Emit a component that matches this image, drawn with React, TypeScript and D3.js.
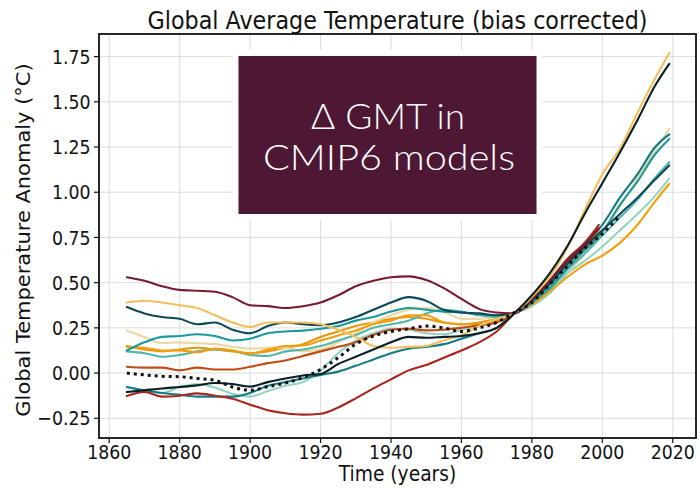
import React from 'react';
import * as d3 from 'd3';

// Year grids (5-year sampling of the smoothed series)
const YEARS = [1865, 1870, 1875, 1880, 1885, 1890, 1895, 1900, 1905, 1910, 1915, 1920, 1925, 1930, 1935, 1940, 1945, 1950, 1955, 1960, 1965, 1970, 1975, 1980, 1985, 1990, 1995, 2000, 2005, 2010, 2015, 2019];
const HIST_YEARS = [1865, 1870, 1875, 1880, 1885, 1890, 1895, 1900, 1905, 1910, 1915, 1920, 1925, 1930, 1935, 1940, 1945, 1950, 1955, 1960, 1965, 1970, 1975, 1980, 1985, 1990, 1995, 1999];
const OBS_YEARS = [1865, 1870, 1875, 1880, 1885, 1890, 1895, 1900, 1905, 1910, 1915, 1920, 1925, 1930, 1935, 1940, 1945, 1950, 1955, 1960, 1965, 1970, 1975, 1980, 1985, 1990, 1995, 2000, 2005];

// Model runs extending to 2019
const lightOrange = [0.39, 0.40, 0.39, 0.375, 0.36, 0.32, 0.28, 0.255, 0.28, 0.28, 0.28, 0.27, 0.24, 0.20, 0.15, 0.14, 0.145, 0.15, 0.18, 0.21, 0.26, 0.30, 0.33, 0.42, 0.53, 0.69, 0.90, 1.10, 1.24, 1.44, 1.63, 1.77];
const black = [-0.105, -0.095, -0.085, -0.077, -0.068, -0.055, -0.06, -0.075, -0.05, -0.03, -0.013, -0.005, 0.05, 0.09, 0.13, 0.17, 0.2, 0.195, 0.2, 0.205, 0.22, 0.25, 0.33, 0.43, 0.55, 0.70, 0.88, 1.05, 1.22, 1.40, 1.59, 1.71];
const wheat = [0.235, 0.2, 0.165, 0.17, 0.165, 0.16, 0.145, 0.135, 0.14, 0.14, 0.12, 0.13, 0.17, 0.22, 0.28, 0.32, 0.35, 0.36, 0.34, 0.30, 0.30, 0.31, 0.33, 0.38, 0.45, 0.55, 0.66, 0.78, 0.92, 1.08, 1.23, 1.35];
const navy = [0.365, 0.33, 0.31, 0.30, 0.27, 0.28, 0.24, 0.22, 0.26, 0.28, 0.27, 0.265, 0.28, 0.31, 0.35, 0.39, 0.42, 0.40, 0.35, 0.335, 0.33, 0.32, 0.33, 0.40, 0.49, 0.60, 0.70, 0.79, 0.88, 0.97, 1.07, 1.148];
const orange = [0.145, 0.14, 0.125, 0.125, 0.115, 0.135, 0.125, 0.107, 0.13, 0.15, 0.153, 0.18, 0.208, 0.236, 0.27, 0.29, 0.32, 0.32, 0.28, 0.27, 0.27, 0.29, 0.33, 0.38, 0.45, 0.53, 0.60, 0.65, 0.72, 0.82, 0.95, 1.047];
const teal = [0.125, 0.17, 0.2, 0.205, 0.215, 0.205, 0.18, 0.19, 0.22, 0.23, 0.235, 0.245, 0.26, 0.29, 0.31, 0.34, 0.36, 0.35, 0.34, 0.335, 0.325, 0.32, 0.33, 0.39, 0.47, 0.58, 0.68, 0.78, 0.93, 1.06, 1.21, 1.295];
const lightTeal = [0.12, 0.11, 0.09, 0.10, 0.12, 0.13, 0.125, 0.10, 0.095, 0.12, 0.13, 0.15, 0.18, 0.21, 0.25, 0.27, 0.29, 0.33, 0.35, 0.34, 0.32, 0.31, 0.33, 0.38, 0.46, 0.57, 0.66, 0.76, 0.86, 0.96, 1.08, 1.166];
const tealDark = [-0.077, -0.095, -0.11, -0.12, -0.13, -0.13, -0.13, -0.11, -0.07, -0.05, -0.03, -0.01, 0.008, 0.04, 0.075, 0.11, 0.135, 0.145, 0.16, 0.19, 0.22, 0.25, 0.33, 0.40, 0.50, 0.62, 0.72, 0.82, 0.97, 1.10, 1.25, 1.32];
const mint = [-0.077, -0.1, -0.11, -0.077, -0.06, -0.08, -0.115, -0.13, -0.1, -0.07, -0.05, 0.015, 0.11, 0.18, 0.22, 0.245, 0.24, 0.22, 0.215, 0.24, 0.26, 0.29, 0.33, 0.37, 0.44, 0.55, 0.62, 0.70, 0.79, 0.88, 0.98, 1.075];

// Historical-only runs ending in 1999
const maroon = [0.53, 0.51, 0.48, 0.46, 0.455, 0.45, 0.42, 0.375, 0.37, 0.36, 0.37, 0.39, 0.43, 0.48, 0.51, 0.53, 0.535, 0.515, 0.47, 0.41, 0.355, 0.335, 0.33, 0.41, 0.51, 0.62, 0.71, 0.80];
const red = [-0.127, -0.105, -0.13, -0.125, -0.112, -0.125, -0.142, -0.175, -0.205, -0.222, -0.23, -0.225, -0.19, -0.14, -0.085, -0.035, 0.015, 0.045, 0.085, 0.125, 0.17, 0.23, 0.33, 0.41, 0.51, 0.63, 0.72, 0.82];
const orangeRed = [0.035, 0.03, 0.03, 0.015, 0.03, 0.02, 0.02, 0.035, 0.055, 0.07, 0.095, 0.12, 0.145, 0.17, 0.21, 0.24, 0.245, 0.236, 0.24, 0.25, 0.264, 0.28, 0.33, 0.41, 0.50, 0.61, 0.69, 0.77];
const darkOrange = [0.15, 0.13, 0.12, 0.13, 0.14, 0.13, 0.12, 0.11, 0.12, 0.14, 0.16, 0.20, 0.23, 0.26, 0.28, 0.30, 0.31, 0.30, 0.28, 0.27, 0.28, 0.30, 0.33, 0.40, 0.50, 0.60, 0.70, 0.79];

// Observational reference (dotted)
const observed = [0.0, -0.01, -0.018, -0.02, -0.03, -0.04, -0.077, -0.095, -0.075, -0.055, -0.025, 0.02, 0.085, 0.16, 0.205, 0.23, 0.245, 0.26, 0.25, 0.23, 0.25, 0.28, 0.335, 0.39, 0.49, 0.59, 0.69, 0.77, 0.87];

const X_TICKS = [1860, 1880, 1900, 1920, 1940, 1960, 1980, 2000, 2020];
const Y_TICKS = [-0.25, 0.0, 0.25, 0.5, 0.75, 1.0, 1.25, 1.5, 1.75];

const SERIES = [
  { years: HIST_YEARS, values: darkOrange, color: '#E8960E' },
  { years: YEARS, values: wheat, color: '#EAD7A2' },
  { years: YEARS, values: mint, color: '#95D3C0' },
  { years: YEARS, values: lightTeal, color: '#4FB7AC' },
  { years: YEARS, values: orange, color: '#F0A00C' },
  { years: HIST_YEARS, values: orangeRed, color: '#C24A14' },
  { years: YEARS, values: teal, color: '#1A9A9C' },
  { years: YEARS, values: tealDark, color: '#137A86' },
  { years: YEARS, values: navy, color: '#0D4A59' },
  { years: HIST_YEARS, values: red, color: '#A8261C' },
  { years: HIST_YEARS, values: maroon, color: '#781B30' },
  { years: YEARS, values: lightOrange, color: '#F2BF5C' },
  { years: YEARS, values: black, color: '#0C1F27' },
];

const W = 700;
const H = 489;
const M = { left: 99, right: 696, top: 34, bottom: 438 };
const SX = 0.89; // horizontal squeeze of glyphs
const FONT = "'DejaVu Sans', sans-serif";
const PANEL_FONT = "Lato, 'Open Sans', sans-serif";

export default function App() {
  const x = d3.scaleLinear().domain([1857.1, 2026.6]).range([M.left, M.right]);
  const y = d3.scaleLinear().domain([-0.359, 1.875]).range([M.bottom, M.top]);

  const lineFor = (years: number[]) =>
    d3
      .line<number>()
      .x((_, i) => x(years[i]))
      .y((v) => y(v))
      .curve(d3.curveMonotoneX);

  const cx = (M.left + M.right) / 2;

  return (
    <svg
      width={W}
      height={H}
      viewBox={`0 0 ${W} ${H}`}
      style={{ position: 'absolute', left: 0, top: 0, background: '#fff' }}
    >
      <rect x={0} y={0} width={W} height={H} fill="#fff" />
      <defs>
        <clipPath id="plot-clip">
          <rect x={M.left} y={M.top} width={M.right - M.left} height={M.bottom - M.top} />
        </clipPath>
      </defs>

      {/* grid */}
      <g stroke="#dcdcdc" strokeWidth={1}>
        {X_TICKS.map((t) => (
          <line key={'gx' + t} x1={x(t)} x2={x(t)} y1={M.top} y2={M.bottom} />
        ))}
        {Y_TICKS.map((t) => (
          <line key={'gy' + t} x1={M.left} x2={M.right} y1={y(t)} y2={y(t)} />
        ))}
      </g>

      {/* label panel */}
      <rect x={233} y={50} width={309} height={170} fill="#fff" />
      <rect x={238.5} y={56} width={298} height={158} fill="#4E1734" />
      <text
        x={388}
        y={129}
        fill="#fff"
        fontFamily={PANEL_FONT}
        fontWeight={300}
        fontSize={35}
        textAnchor="middle"
        textLength={154}
        lengthAdjust="spacingAndGlyphs"
      >
        Δ GMT in
      </text>
      <text
        x={389}
        y={170}
        fill="#fff"
        fontFamily={PANEL_FONT}
        fontWeight={300}
        fontSize={35}
        textAnchor="middle"
        textLength={252}
        lengthAdjust="spacingAndGlyphs"
      >
        CMIP6 models
      </text>

      {/* model runs */}
      <g clipPath="url(#plot-clip)" fill="none" strokeWidth={2.1} strokeLinejoin="round" strokeLinecap="round">
        {SERIES.map((s, i) => (
          <path key={i} d={lineFor(s.years)(s.values) || ''} stroke={s.color} />
        ))}
        <path
          d={lineFor(OBS_YEARS)(observed) || ''}
          stroke="#111"
          strokeWidth={3}
          strokeDasharray="3 4"
          strokeLinecap="butt"
        />
      </g>

      {/* axes frame */}
      <rect
        x={M.left}
        y={M.top}
        width={M.right - M.left}
        height={M.bottom - M.top}
        fill="none"
        stroke="#111"
        strokeWidth={1.8}
      />

      {/* x ticks */}
      {X_TICKS.map((t) => (
        <g key={'xt' + t}>
          <line x1={x(t)} x2={x(t)} y1={M.bottom} y2={M.bottom + 5} stroke="#111" strokeWidth={1.2} />
          <text
            transform={`translate(${x(t)},458.5) scale(${SX},1)`}
            textAnchor="middle"
            fontFamily={FONT}
            fontSize={19.5}
            fill="#111"
          >
            {t}
          </text>
        </g>
      ))}

      {/* y ticks */}
      {Y_TICKS.map((t) => (
        <g key={'yt' + t}>
          <line x1={M.left - 5} x2={M.left} y1={y(t)} y2={y(t)} stroke="#111" strokeWidth={1.2} />
          <text
            transform={`translate(90.5,${y(t) + 7.2}) scale(${SX},1)`}
            textAnchor="end"
            fontFamily={FONT}
            fontSize={19.5}
            fill="#111"
          >
            {d3.format('.2f')(t).replace('-', '\u2212')}
          </text>
        </g>
      ))}

      {/* titles */}
      <text
        transform={`translate(${cx},29) scale(${SX},1)`}
        textAnchor="middle"
        fontFamily={FONT}
        fontSize={25}
        fill="#111"
      >
        Global Average Temperature (bias corrected)
      </text>
      <text
        transform={`translate(${cx},481) scale(${SX},1)`}
        textAnchor="middle"
        fontFamily={FONT}
        fontSize={21}
        fill="#111"
      >
        Time (years)
      </text>
      <text
        transform={`translate(29.5,240) scale(${SX},1) rotate(-90)`}
        textAnchor="middle"
        fontFamily={FONT}
        fontSize={21}
        fill="#111"
      >
        Global Temperature Anomaly (°C)
      </text>
    </svg>
  );
}
